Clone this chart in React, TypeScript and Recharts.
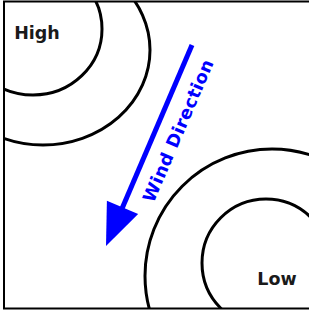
/**
 * Wind direction sketch - isobars round a High and a Low, with the wind arrow between them
 */

import { ComposedChart, XAxis, YAxis, Scatter, ReferenceLine, ReferenceArea } from 'recharts'

// isobar rings (centre, radii) in picture units
const isobarCx = [33, 43, 266, 272]
const isobarCy = [29, 50, 263, 276]
const isobarRx = [69, 107, 64, 127]
const isobarRy = [66, 95, 64, 127]

// pressure centre labels
const pressureLabels = ['High', 'Low']
const pressureX = [37, 277]
const pressureY = [39, 285]

// wind arrow, tail -> tip
const windX = [192, 106]
const windY = [45, 246]
const windLabel = 'Wind Direction'

const W = 309
const H = 310
const X_MAX = 309
const Y_MAX = 310
const PX = W / X_MAX // px per unit, chart has no margins
const BLUE = '#0000ff'

const isobars = isobarCx.map((x, i) => ({ x, y: isobarCy[i], rx: isobarRx[i], ry: isobarRy[i] }))
const centres = pressureLabels.map((name, i) => ({ x: pressureX[i], y: pressureY[i], name }))

function IsobarShape(props: any) {
  const { cx, cy, payload } = props
  return (
    <ellipse
      cx={cx}
      cy={cy}
      rx={payload.rx * PX}
      ry={payload.ry * PX}
      fill="none"
      stroke="#000"
      strokeWidth={3}
      clipPath="url(#frame-clip)"
    />
  )
}

function CentreLabel(props: any) {
  const { cx, cy, payload } = props
  return (
    <text
      x={cx}
      y={cy}
      textAnchor="middle"
      fontFamily="DejaVu Sans"
      fontWeight="bold"
      fontSize={17.5}
      fill="#1a1a1a"
    >
      {payload.name}
    </text>
  )
}

function WindArrow(props: any) {
  const { x1, y1, x2, y2 } = props
  const len = Math.hypot(x2 - x1, y2 - y1)
  const dx = (x2 - x1) / len
  const dy = (y2 - y1) / len
  // right-hand normal (screen coords)
  const nx = -dy
  const ny = dx
  const headLen = 42
  const headHalf = 17
  const bx = x2 - dx * headLen
  const by = y2 - dy * headLen
  const head = [
    [x2, y2],
    [bx + nx * headHalf, by + ny * headHalf],
    [bx - nx * headHalf, by - ny * headHalf],
  ]
    .map((p) => p.join(','))
    .join(' ')

  // label sits beside the shaft, reading from tip towards tail
  const along = 84
  const off = -21
  const tx = x1 + dx * along + nx * off
  const ty = y1 + dy * along + ny * off
  const angle = (Math.atan2(-dy, -dx) * 180) / Math.PI

  return (
    <g>
      <line x1={x1} y1={y1} x2={bx + dx * 2} y2={by + dy * 2} stroke={BLUE} strokeWidth={5} />
      <polygon points={head} fill={BLUE} />
      <text
        x={tx}
        y={ty}
        textAnchor="middle"
        dominantBaseline="central"
        fontFamily="DejaVu Sans"
        fontWeight="bold"
        fontSize={17.5}
        letterSpacing={0.5}
        fill={BLUE}
        transform={`rotate(${angle} ${tx} ${ty})`}
      >
        {windLabel}
      </text>
    </g>
  )
}

export default function App() {
  return (
    <div style={{ position: 'fixed', top: 0, left: 0, width: W, height: H, background: '#fff' }}>
      <ComposedChart width={W} height={H} margin={{ top: 0, right: 0, bottom: 0, left: 0 }}>
        <defs>
          <clipPath id="frame-clip">
            <rect x={4} y={1.5} width={310} height={307} />
          </clipPath>
        </defs>
        <XAxis type="number" dataKey="x" domain={[0, X_MAX]} hide allowDataOverflow />
        <YAxis type="number" dataKey="y" domain={[0, Y_MAX]} hide reversed allowDataOverflow />
        <ReferenceArea
          x1={4}
          x2={312}
          y1={1.5}
          y2={308.5}
          fill="none"
          stroke="#000"
          strokeWidth={2}
          fillOpacity={0}
          ifOverflow="visible"
        />
        <Scatter data={isobars} shape={IsobarShape} isAnimationActive={false} />
        <Scatter data={centres} shape={CentreLabel} isAnimationActive={false} />
        <ReferenceLine
          segment={[
            { x: windX[0], y: windY[0] },
            { x: windX[1], y: windY[1] },
          ]}
          shape={WindArrow}
          ifOverflow="visible"
        />
      </ComposedChart>
    </div>
  )
}
